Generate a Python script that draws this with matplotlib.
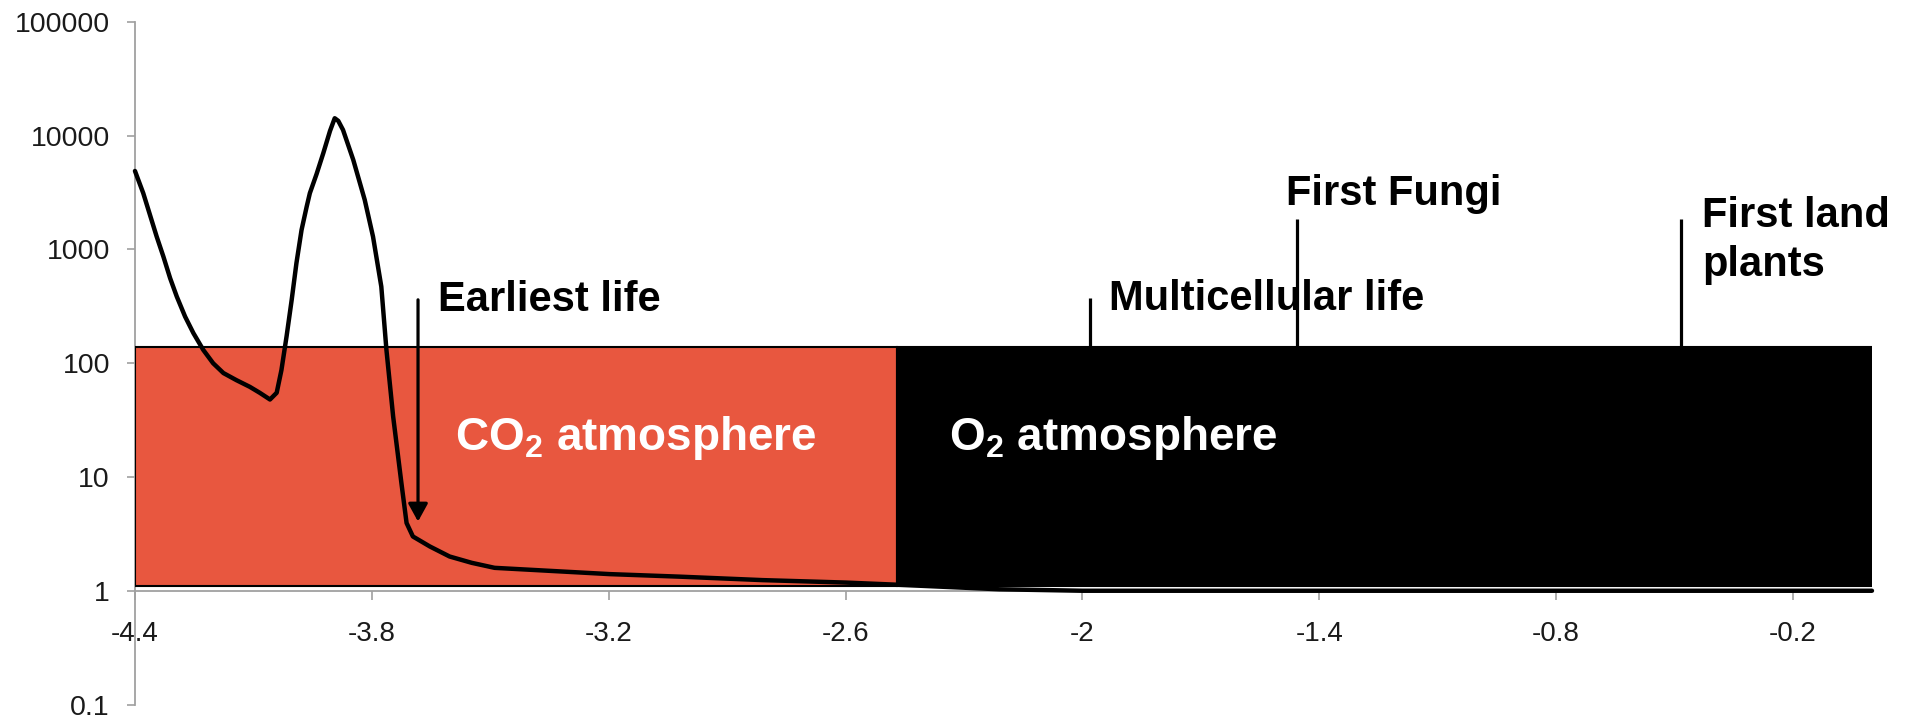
import matplotlib
matplotlib.use("Agg")
import matplotlib.pyplot as plt
from matplotlib.ticker import FixedLocator, FixedFormatter, NullLocator

plt.rcParams['font.family'] = ['Liberation Sans', 'DejaVu Sans']
plt.rcParams['mathtext.fontset'] = 'custom'
plt.rcParams['mathtext.rm'] = 'Liberation Sans'
plt.rcParams['mathtext.bf'] = 'Liberation Sans:bold'

# ---- data ----
age = [-4.4, -4.379, -4.362, -4.345, -4.328, -4.311, -4.294, -4.273, -4.252,
       -4.227, -4.202, -4.176, -4.143, -4.109, -4.084, -4.058, -4.041, -4.029,
       -4.016, -4.003, -3.991, -3.978, -3.965, -3.957, -3.940, -3.923, -3.906,
       -3.894, -3.885, -3.873, -3.847, -3.818, -3.797, -3.776, -3.763, -3.746,
       -3.725, -3.712, -3.696, -3.653, -3.603, -3.547, -3.489, -3.197, -3.02,
       -2.81, -2.60, -2.47, -2.21, -2.0, -1.5, -1.0, -0.5, 0.0]
co2 = [4900, 3125, 2014, 1298, 866, 560, 385, 257, 184,
       131, 100, 82, 71, 62, 55, 48, 55, 87,
       172, 361, 758, 1486, 2383, 3125, 4600, 7020, 11000,
       14250, 13500, 11250, 6130, 2730, 1298, 472, 131, 34,
       8.8, 3.94, 3.0, 2.45, 2.0, 1.76, 1.59, 1.40, 1.33,
       1.24, 1.18, 1.13, 1.03, 1.0, 1.0, 1.0, 1.0, 1.0]

era_start = [-4.4, -2.47]
era_end = [-2.47, 0.0]
era_colors = ['#E8573F', '#000000']
era_labels = ['CO$_\\mathbf{2}$ atmosphere', 'O$_\\mathbf{2}$ atmosphere']
era_label_x = [-3.59, -2.339]
era_label_y = 17.3
band_bottom = 1.09
band_top = 140

events = ['Multicellular life', 'First Fungi', 'First land', 'plants']
event_line_x = [-1.982, -1.456, -0.484]
event_line_top = [376, 1860, 1860]
event_text_x = [-1.932, -1.484, -0.430, -0.430]
event_text_y = [295, 2466, 1589, 584]

earliest_x = -3.683
earliest_top = 361
earliest_tip = 4.06
earliest_text = 'Earliest life'
earliest_text_x = -3.633
earliest_text_y = 285

xticks = [-4.4, -3.8, -3.2, -2.6, -2.0, -1.4, -0.8, -0.2]
xticklabels = ['-4.4', '-3.8', '-3.2', '-2.6', '-2', '-1.4', '-0.8', '-0.2']
yticks = [0.1, 1, 10, 100, 1000, 10000, 100000]
yticklabels = ['0.1', '1', '10', '100', '1000', '10000', '100000']

# ---- figure ----
fig = plt.figure(figsize=(19.09, 7.18), dpi=100)
ax = fig.add_axes([0.0707, 0.0188, 0.9806 - 0.0707, 0.9694 - 0.0188])
ax.set_yscale('log')
ax.set_xlim(-4.4, 0.0)
ax.set_ylim(0.1, 100000)

widths = [e - s for s, e in zip(era_start, era_end)]
ax.bar(era_start, band_top - band_bottom, width=widths, bottom=band_bottom,
       align='edge', color=era_colors, edgecolor='black', linewidth=1.5, zorder=2)

for lab, lx in zip(era_labels, era_label_x):
    ax.text(lx, era_label_y, lab, color='white', fontsize=33, fontweight='bold',
            ha='left', va='baseline', zorder=4)

ax.vlines(event_line_x, band_top, event_line_top, color='black', lw=2.3, zorder=3)
for t, tx, ty in zip(events, event_text_x, event_text_y):
    ax.text(tx, ty, t, fontsize=30, fontweight='bold', ha='left', va='baseline',
            color='black', zorder=4)

ax.annotate('', xy=(earliest_x, earliest_tip), xytext=(earliest_x, earliest_top),
            arrowprops=dict(arrowstyle='-|>,head_length=0.4,head_width=0.22',
                            mutation_scale=27, lw=2.3, color='black',
                            shrinkA=0, shrinkB=0), zorder=5)
ax.text(earliest_text_x, earliest_text_y, earliest_text, fontsize=30,
        fontweight='bold', ha='left', va='baseline', color='black', zorder=4)

ax.plot(age, co2, color='black', lw=3.2, solid_joinstyle='round',
        solid_capstyle='round', zorder=6, clip_on=False)

# axes styling
for s in ['top', 'right']:
    ax.spines[s].set_visible(False)
ax.spines['bottom'].set_position(('data', 1))
for s in ['left', 'bottom']:
    ax.spines[s].set_color('#A0A0A0')
    ax.spines[s].set_linewidth(1.3)
ax.spines['left'].set_zorder(1)
ax.spines['bottom'].set_zorder(1)

ax.xaxis.set_major_locator(FixedLocator(xticks))
ax.xaxis.set_major_formatter(FixedFormatter(xticklabels))
ax.yaxis.set_major_locator(FixedLocator(yticks))
ax.yaxis.set_major_formatter(FixedFormatter(yticklabels))
ax.yaxis.set_minor_locator(NullLocator())
ax.xaxis.set_minor_locator(NullLocator())
ax.tick_params(axis='x', direction='out', length=6.5, width=1.2, color='#A0A0A0',
               labelsize=20, pad=15, labelcolor='#1a1a1a')
ax.tick_params(axis='y', direction='out', length=6, width=1.2, color='#A0A0A0',
               labelsize=20.5, pad=12, labelcolor='#1a1a1a')
ax.patch.set_visible(False)

fig.savefig('out.png', dpi=100)
